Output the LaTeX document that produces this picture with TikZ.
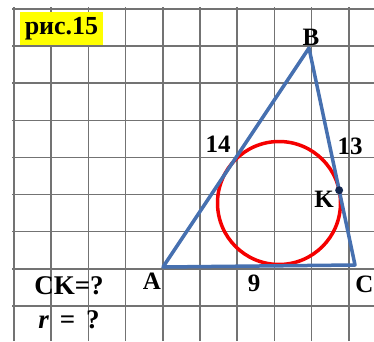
\documentclass[tikz,border=0pt]{standalone}
\usepackage{fontspec}
\setmainfont{Liberation Serif}
\usetikzlibrary{calc}
\definecolor{gridgray}{RGB}{115,115,115}
\definecolor{sideblue}{RGB}{70,112,176}
\definecolor{circred}{RGB}{245,0,0}
\definecolor{dotnavy}{RGB}{20,40,80}
\definecolor{tagyellow}{RGB}{255,255,0}

\begin{document}
\begin{tikzpicture}[x=1pt,y=1pt,
    lbl/.style={font=\fontsize{25}{29}\selectfont\bfseries,inner sep=0pt},
    ask/.style={font=\fontsize{27}{31}\selectfont\bfseries,inner sep=0pt}]
  \useasboundingbox (0,0) rectangle (374,341);
  \fill[white] (0,0) rectangle (374,341);
  % squared paper
  \foreach \k in {0,...,9}
    \draw[gridgray,line width=1.6pt] ({14+37.2*\k},0) -- ({14+37.2*\k},334);
  \foreach \k in {0,...,8}
    \draw[gridgray,line width=1.6pt] (12,{332-37.1*\k}) -- (374,{332-37.1*\k});
  % triangle and incircle
  \coordinate (A) at (163,74);
  \coordinate (B) at (309,293);
  \coordinate (C) at (355,76);
  \coordinate (O) at (279,138);
  \coordinate (K) at ($(B)!(O)!(C)$);
  \draw[circred,line width=3.5pt] (O) circle[radius=61.5];
  \draw[sideblue,line width=3.5pt,line join=round] (A) -- (B) -- (C) -- cycle;
  \fill[dotnavy] (K) circle[radius=4];
  % labels
  \node[fill=tagyellow,inner sep=0pt,minimum width=83pt,minimum height=33pt,
    font=\fontsize{26}{30}\selectfont\bfseries] (tag) at (61.5,312.5) {рис.15};
  \node[lbl] (lblB) at (311,304) {B};
  \node[lbl] (lblA) at (152,60) {A};
  \node[lbl] (lblC) at (364.5,57) {C};
  \node[lbl] (lblK) at (324,142) {K};
  \node[lbl] (lblAB) at (218,197) {14};
  \node[lbl] (lblBC) at (350,195) {13};
  \node[lbl] (lblAC) at (254,58) {9};
  \node[ask] (askCK) at (69,55) {CK=?};
  \node[ask] (askr) at (69,21) {\textit{r}\hspace{4pt} = \hspace{4pt}?};
\end{tikzpicture}
\end{document}
